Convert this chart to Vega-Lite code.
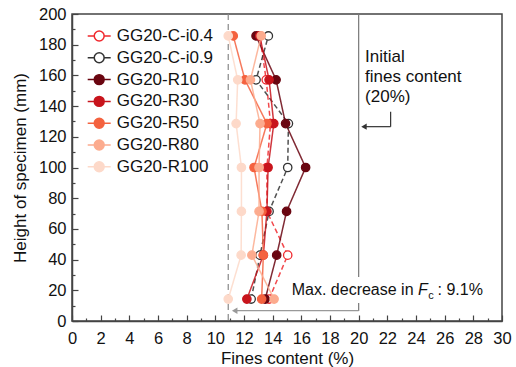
{
  "$schema": "https://vega.github.io/schema/vega-lite/v6.json",
  "width": 430,
  "height": 307,
  "autosize": {"type": "none"},
  "padding": {"left": 72, "top": 14, "right": 14, "bottom": 46},
  "background": "white",
  "config": {
    "font": "Liberation Sans",
    "view": {"stroke": "#444", "strokeWidth": 1.5},
    "axis": {"grid": false}
  },
  "datasets": {
    "fc": [
      {"s": "GG20-C-i0.4", "h": 185.7, "fc": 13.1},
      {"s": "GG20-C-i0.4", "h": 157.1, "fc": 13.55},
      {"s": "GG20-C-i0.4", "h": 128.6, "fc": 13.85},
      {"s": "GG20-C-i0.4", "h": 100, "fc": 13.6},
      {"s": "GG20-C-i0.4", "h": 71.4, "fc": 13.6},
      {"s": "GG20-C-i0.4", "h": 42.9, "fc": 15.05},
      {"s": "GG20-C-i0.4", "h": 14.3, "fc": 13.75},
      {"s": "GG20-C-i0.9", "h": 185.7, "fc": 13.7},
      {"s": "GG20-C-i0.9", "h": 157.1, "fc": 12.84},
      {"s": "GG20-C-i0.9", "h": 128.6, "fc": 15.1},
      {"s": "GG20-C-i0.9", "h": 100, "fc": 15.05},
      {"s": "GG20-C-i0.9", "h": 71.4, "fc": 13.75},
      {"s": "GG20-C-i0.9", "h": 42.9, "fc": 13.12},
      {"s": "GG20-C-i0.9", "h": 14.3, "fc": 12.5},
      {"s": "GG20-R10", "h": 185.7, "fc": 12.84},
      {"s": "GG20-R10", "h": 157.1, "fc": 14.24},
      {"s": "GG20-R10", "h": 128.6, "fc": 14.9},
      {"s": "GG20-R10", "h": 100, "fc": 16.3},
      {"s": "GG20-R10", "h": 71.4, "fc": 14.97},
      {"s": "GG20-R10", "h": 42.9, "fc": 14.28},
      {"s": "GG20-R10", "h": 14.3, "fc": 13.48},
      {"s": "GG20-R30", "h": 185.7, "fc": 13.1},
      {"s": "GG20-R30", "h": 157.1, "fc": 13.75},
      {"s": "GG20-R30", "h": 128.6, "fc": 14.08},
      {"s": "GG20-R30", "h": 100, "fc": 13.68},
      {"s": "GG20-R30", "h": 71.4, "fc": 13.6},
      {"s": "GG20-R30", "h": 42.9, "fc": 13.35},
      {"s": "GG20-R30", "h": 14.3, "fc": 12.2},
      {"s": "GG20-R50", "h": 185.7, "fc": 11.25},
      {"s": "GG20-R50", "h": 157.1, "fc": 12.07},
      {"s": "GG20-R50", "h": 128.6, "fc": 13.6},
      {"s": "GG20-R50", "h": 100, "fc": 12.7},
      {"s": "GG20-R50", "h": 71.4, "fc": 13.25},
      {"s": "GG20-R50", "h": 42.9, "fc": 13.35},
      {"s": "GG20-R50", "h": 14.3, "fc": 13.23},
      {"s": "GG20-R80", "h": 185.7, "fc": 13.2},
      {"s": "GG20-R80", "h": 157.1, "fc": 12.45},
      {"s": "GG20-R80", "h": 128.6, "fc": 13.12},
      {"s": "GG20-R80", "h": 100, "fc": 13.05},
      {"s": "GG20-R80", "h": 71.4, "fc": 13.05},
      {"s": "GG20-R80", "h": 42.9, "fc": 12.55},
      {"s": "GG20-R80", "h": 14.3, "fc": 14.1},
      {"s": "GG20-R100", "h": 185.7, "fc": 10.9},
      {"s": "GG20-R100", "h": 157.1, "fc": 11.56},
      {"s": "GG20-R100", "h": 128.6, "fc": 11.45},
      {"s": "GG20-R100", "h": 100, "fc": 11.82},
      {"s": "GG20-R100", "h": 71.4, "fc": 11.82},
      {"s": "GG20-R100", "h": 42.9, "fc": 11.8},
      {"s": "GG20-R100", "h": 14.3, "fc": 10.9}
    ]
  },
  "encoding": {
    "x": {
      "field": "fc", "type": "quantitative",
      "scale": {"domain": [0, 30], "nice": false, "zero": false},
      "axis": {
        "title": "Fines content (%)",
        "values": [0,1,2,3,4,5,6,7,8,9,10,11,12,13,14,15,16,17,18,19,20,21,22,23,24,25,26,27,28,29,30],
        "labelExpr": "datum.value % 2 == 0 ? datum.label : ''",
        "labelFlush": false, "labelOverlap": false,
        "tickSize": {"condition": {"test": "datum.value % 2 == 0", "value": -6}, "value": -3},
        "tickColor": "#444", "tickWidth": 1.2,
        "domainColor": "#444", "domainWidth": 1.5,
        "labelFontSize": 16.5, "labelColor": "#111", "labelPadding": 15,
        "titleFontSize": 17, "titleFontWeight": "normal", "titleColor": "#111", "titlePadding": 1
      }
    },
    "y": {
      "field": "h", "type": "quantitative",
      "scale": {"domain": [0, 200], "nice": false, "zero": false},
      "axis": {
        "title": "Height of specimen (mm)",
        "values": [0,10,20,30,40,50,60,70,80,90,100,110,120,130,140,150,160,170,180,190,200],
        "labelExpr": "datum.value % 20 == 0 ? datum.label : ''",
        "labelFlush": false, "labelOverlap": false,
        "tickSize": {"condition": {"test": "datum.value % 20 == 0", "value": -6}, "value": -3},
        "tickColor": "#444", "tickWidth": 1.2,
        "domainColor": "#444", "domainWidth": 1.5,
        "labelFontSize": 16.5, "labelColor": "#111", "labelPadding": 12,
        "titleFontSize": 17, "titleFontWeight": "normal", "titleColor": "#111", "titlePadding": 9
      }
    }
  },
  "layer": [
    {
      "data": {"values": [{"fc": 10.9}]},
      "mark": {"type": "rule", "color": "#888", "strokeWidth": 1.2, "strokeDash": [6, 4]},
      "encoding": {"y": null}
    },
    {
      "data": {"values": [{"fc": 20, "fc2": 20, "h": 28.6, "h2": 200}, {"fc": 20, "fc2": 20, "h": 6.5, "h2": 11.7}]},
      "mark": {"type": "rule", "color": "#777", "strokeWidth": 1.2},
      "encoding": {
        "x2": {"field": "fc2"},
        "y2": {"field": "h2"}
      }
    },
    {
      "data": {"values": [{"fc": 20, "fc2": 11.3, "h": 6.7, "h2": 6.7}, {"fc": 22.23, "fc2": 22.23, "h": 136.4, "h2": 126.6}, {"fc": 22.23, "fc2": 20.5, "h": 126.6, "h2": 126.6}]},
      "mark": {"type": "rule", "strokeWidth": 1.2},
      "encoding": {
        "x2": {"field": "fc2"},
        "y2": {"field": "h2"},
        "color": {"condition": {"test": "datum.h < 50", "value": "#999"}, "value": "#333"}
      }
    },
    {
      "data": {"values": [{"fc": 11.35, "h": 6.7}, {"fc": 20.37, "h": 126.6}]},
      "mark": {"type": "point", "shape": "triangle-left", "filled": true, "size": 40, "opacity": 1},
      "encoding": {
        "color": {"condition": {"test": "datum.h < 50", "value": "#999"}, "value": "#333"}
      }
    },
    {
      "data": {"values": [{"fc": 20.45, "h": 168.7, "t": "Initial"}, {"fc": 20.45, "h": 155.7, "t": "fines content"}, {"fc": 20.45, "h": 142.6, "t": "(20%)"}]},
      "mark": {"type": "text", "align": "left", "baseline": "alphabetic", "fontSize": 17, "color": "#111"},
      "encoding": {"text": {"field": "t"}}
    },
    {
      "data": {"values": [{"fc": 15.33, "h": 16.9, "t": "Max. decrease in"}, {"fc": 25.5, "h": 16.9, "t": ": 9.1%"}]},
      "mark": {"type": "text", "align": "left", "baseline": "alphabetic", "fontSize": 16, "color": "#111"},
      "encoding": {"text": {"field": "t"}}
    },
    {
      "data": {"values": [{"fc": 24.14, "h": 16.9, "t": "F"}]},
      "mark": {"type": "text", "align": "left", "baseline": "alphabetic", "fontSize": 16, "fontStyle": "italic", "color": "#111"},
      "encoding": {"text": {"field": "t"}}
    },
    {
      "data": {"values": [{"fc": 24.85, "h": 14.2, "t": "c"}]},
      "mark": {"type": "text", "align": "left", "baseline": "alphabetic", "fontSize": 11, "color": "#111"},
      "encoding": {"text": {"field": "t"}}
    },
    {
      "data": {"name": "fc"},
      "mark": {"type": "line", "strokeWidth": 1.5, "opacity": 0.85},
      "encoding": {
        "order": {"field": "h", "type": "quantitative"},
        "stroke": {
          "field": "s", "type": "nominal",
          "scale": {
            "domain": ["GG20-C-i0.4", "GG20-C-i0.9", "GG20-R10", "GG20-R30", "GG20-R50", "GG20-R80", "GG20-R100"],
            "range": ["#f0282d", "#333333", "#6a0510", "#c8141c", "#f4623f", "#fcab8e", "#fdd9c9"]
          },
          "legend": {
            "title": null, "orient": "none", "legendX": 14.7, "legendY": 9.5,
            "symbolType": "M-1,0L-0.43,0M0.43,0L1,0M-0.43,0A0.43,0.43,0,1,1,0.43,0A0.43,0.43,0,1,1,-0.43,0Z",
            "symbolSize": 529, "symbolStrokeWidth": 1.5, "symbolOpacity": 1,
            "labelFontSize": 17, "labelColor": "#111", "labelOffset": 5, "rowPadding": 0.8, "padding": 0
          }
        },
        "strokeDash": {
          "field": "s", "type": "nominal",
          "scale": {"range": [[5, 3], [5, 3], [1, 0], [1, 0], [1, 0], [1, 0], [1, 0]]},
          "legend": null
        }
      }
    },
    {
      "data": {"name": "fc"},
      "mark": {"type": "point", "filled": true, "size": 70, "strokeWidth": 1.3, "opacity": 1},
      "encoding": {
        "stroke": {
          "field": "s", "type": "nominal",
          "legend": {
            "title": null, "orient": "none", "legendX": 14.7, "legendY": 9.5,
            "symbolType": "M-1,0L-0.43,0M0.43,0L1,0M-0.43,0A0.43,0.43,0,1,1,0.43,0A0.43,0.43,0,1,1,-0.43,0Z",
            "symbolSize": 529, "symbolStrokeWidth": 1.5, "symbolOpacity": 1,
            "labelFontSize": 17, "labelColor": "#111", "labelOffset": 5, "rowPadding": 0.8, "padding": 0
          }
        },
        "fill": {
          "field": "s", "type": "nominal",
          "scale": {
            "domain": ["GG20-C-i0.4", "GG20-C-i0.9", "GG20-R10", "GG20-R30", "GG20-R50", "GG20-R80", "GG20-R100"],
            "range": ["#ffffff", "#ffffff", "#6a0510", "#c8141c", "#f4623f", "#fcab8e", "#fdd9c9"]
          },
          "legend": {
            "title": null, "orient": "none", "legendX": 14.7, "legendY": 9.5,
            "symbolType": "M-1,0L-0.43,0M0.43,0L1,0M-0.43,0A0.43,0.43,0,1,1,0.43,0A0.43,0.43,0,1,1,-0.43,0Z",
            "symbolSize": 529, "symbolStrokeWidth": 1.5, "symbolOpacity": 1,
            "labelFontSize": 17, "labelColor": "#111", "labelOffset": 5, "rowPadding": 0.8, "padding": 0
          }
        }
      }
    }
  ]
}
